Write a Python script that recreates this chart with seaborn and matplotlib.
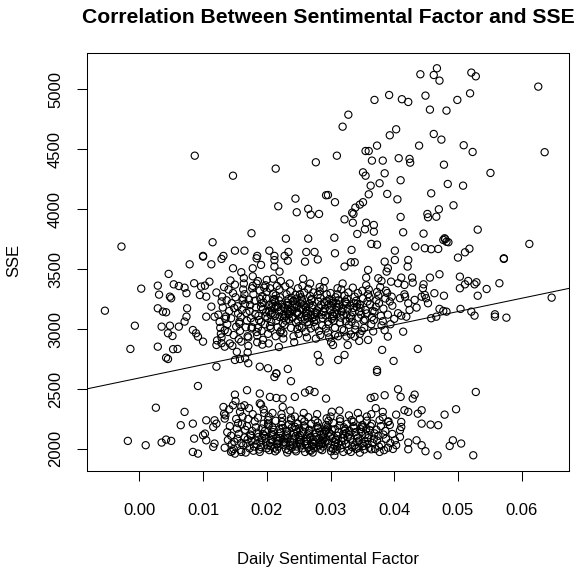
import numpy as np
import pandas as pd
import seaborn as sns
import matplotlib
matplotlib.use("Agg")
import matplotlib.pyplot as plt

# ---------------- data ----------------

# scattered points (outside the two dense clouds)
sparse_x = [
    0.0467, 0.0462, 0.0471, 0.0441, 0.0521, 0.0528, 0.0626, 0.0369, 0.0392, 0.0412,
    0.0422, 0.0449, 0.0456, 0.0482, 0.0499, 0.0519, 0.0328, 0.0319, 0.0393, 0.0403,
    0.0373, 0.0360, 0.0355, 0.0310, 0.0365, 0.0382, 0.0407, 0.0424, 0.0425, 0.0439,
    0.0462, 0.0474, 0.0509, 0.0523, 0.0636, 0.0478, 0.0351, 0.0355, 0.0385, 0.0410,
    0.0377, 0.0363, 0.0484, 0.0508, 0.0551, 0.0296, 0.0307, 0.0360, 0.0389, 0.0405,
    0.0458, 0.0493, 0.0470, 0.0452, 0.0453, 0.0466, 0.0351, 0.0346, 0.0339, 0.0334,
    0.0336, 0.0322, 0.0335, 0.0356, 0.0368, 0.0354, 0.0368, 0.0410, 0.0414, 0.0446,
    0.0531, 0.0306, 0.0342, 0.0479, 0.0480, 0.0477, 0.0482, 0.0485, 0.0433, 0.0448,
    0.0458, 0.0469, 0.0511, 0.0518, 0.0612, 0.0364, 0.0373, 0.0333, 0.0307, 0.0401,
    0.0572,
    0.0087, 0.0147, 0.0214, 0.0277, 0.0293, 0.0245, 0.0218, 0.0247, 0.0265, 0.0269,
    0.0282, 0.0176, 0.0115, 0.0230, 0.0265, -0.0028, 0.0150, 0.0165, 0.0204, 0.0234,
    0.0262, 0.0275, 0.0100, 0.0132, 0.0185, 0.0212, 0.0228,
    -0.0054, -0.0007, -0.0014, 0.0003, 0.0029, 0.0046, 0.0031, 0.0029, 0.0037, 0.0042,
    0.0035, 0.0048, 0.0062, 0.0045, 0.0052, 0.0029, 0.0053, 0.0060, 0.0042, 0.0045,
    0.0079, 0.0054, 0.0062, 0.0071, 0.0048, 0.0050, 0.0074, 0.0075, 0.0074, 0.0071,
    0.0086, 0.0097, 0.0103, 0.0110, 0.0095, 0.0105, 0.0113, 0.0105, 0.0118, 0.0084,
    0.0092, 0.0100, 0.0089, 0.0121, 0.0129, 0.0134, 0.0121, 0.0150, 0.0158, 0.0166,
    0.0171, 0.0189, 0.0202, 0.0233, 0.0215, 0.0283, 0.0280, 0.0147, 0.0160, 0.0178,
    0.0191, 0.0212, 0.0220, 0.0184, 0.0212, 0.0233, 0.0260, 0.0280, 0.0100, 0.0113,
    0.0129,
    0.0500, 0.0572, 0.0422, 0.0421, 0.0401, 0.0385, 0.0390, 0.0388, 0.0332, 0.0338,
    0.0322, 0.0359, 0.0375, 0.0380, 0.0356, 0.0411, 0.0428, 0.0429, 0.0416, 0.0406,
    0.0395, 0.0456, 0.0471, 0.0446, 0.0445, 0.0448, 0.0450, 0.0453, 0.0443, 0.0463,
    0.0478, 0.0503, 0.0516, 0.0511, 0.0503, 0.0529, 0.0526, 0.0545, 0.0565, 0.0531,
    0.0416, 0.0417, 0.0409, 0.0432, 0.0422, 0.0435, 0.0424, 0.0419, 0.0411, 0.0406,
    0.0414, 0.0458, 0.0466, 0.0477, 0.0482, 0.0471, 0.0504, 0.0521, 0.0526, 0.0558,
    0.0558, 0.0576, 0.0647, 0.0390, 0.0359, 0.0345, 0.0327, 0.0325, 0.0338, 0.0307,
    0.0304, 0.0381, 0.0437, 0.0399, 0.0373, 0.0322, 0.0312, 0.0301,
    -0.0018, 0.0010, 0.0035, 0.0042, 0.0050, 0.0026, 0.0071, 0.0065, 0.0084, 0.0092,
    0.0086, 0.0100, 0.0103, 0.0105, 0.0084, 0.0092, 0.0105, 0.0118, 0.0116, 0.0121,
    0.0118, 0.0116, 0.0150, 0.0169, 0.0189, 0.0205, 0.0191, 0.0215, 0.0225, 0.0212,
    0.0215, 0.0238, 0.0244, 0.0260, 0.0267, 0.0275, 0.0293, 0.0132, 0.0147, 0.0160,
    0.0165, 0.0133, 0.0134, 0.0144, 0.0150, 0.0160,
    0.0373, 0.0406, 0.0410, 0.0432, 0.0429, 0.0385, 0.0369, 0.0363, 0.0528, 0.0497,
    0.0479, 0.0443, 0.0457, 0.0469, 0.0443, 0.0437, 0.0422, 0.0416, 0.0403, 0.0411,
    0.0492, 0.0487, 0.0505, 0.0524, 0.0468, 0.0449, 0.0443, 0.0435, 0.0422, 0.0422,
    0.0403, 0.0409, 0.0401, 0.0409, 0.0411, 0.0390, 0.0382, 0.0306, 0.0320, 0.0346,
    0.0377, 0.0364,
]
sparse_y = [
    5175, 5119, 5072, 5125, 5139, 5108, 5022, 4911, 4952, 4917,
    4894, 4947, 4830, 4822, 4911, 4966, 4788, 4688, 4616, 4666,
    4530, 4485, 4485, 4446, 4405, 4405, 4425, 4419, 4388, 4530,
    4627, 4580, 4533, 4477, 4475, 4371, 4307, 4279, 4299, 4241,
    4216, 4196, 4210, 4196, 4302, 4118, 4058, 4124, 4127, 4082,
    4132, 4032, 3999, 3960, 3932, 3937, 4058, 4038, 4013, 3971,
    3960, 3915, 3887, 3887, 3868, 3832, 3812, 3935, 3807, 3796,
    3829, 3762, 3793, 3757, 3749, 3743, 3728, 3724, 3688, 3674,
    3666, 3668, 3640, 3670, 3710, 3710, 3704, 3660, 3632, 3654,
    3590,
    4446, 4279, 4338, 4391, 4116, 4088, 4024, 3974, 4002, 3954,
    3960, 3799, 3724, 3754, 3754, 3688, 3654, 3654, 3654, 3643,
    3643, 3643, 3610, 3610, 3610, 3610, 3610,
    3153, 3028, 2834, 3337, 3362, 3460, 3287, 3173, 3145, 3140,
    3020, 3028, 3020, 2965, 2942, 2853, 2832, 2834, 2761, 2750,
    3540, 3373, 3359, 3345, 3270, 3257, 3299, 3173, 3103, 3062,
    3382, 3354, 3362, 3395, 3284, 3270, 3187, 3103, 3103, 2992,
    2937, 2895, 2965, 2867, 2882, 2853, 2686, 2742, 2750, 2756,
    2715, 2686, 2673, 2667, 2631, 2728, 2784, 3507, 3474, 3507,
    3535, 3521, 3479, 3590, 3575, 3570, 3562, 3580, 3604, 3540,
    3585,
    3596, 3585, 3576, 3521, 3576, 3562, 3507, 3479, 3557, 3557,
    3521, 3493, 3424, 3401, 3429, 3429, 3429, 3387, 3368, 3382,
    3395, 3429, 3457, 3373, 3340, 3284, 3257, 3215, 3270, 3299,
    3278, 3437, 3401, 3373, 3340, 3390, 3373, 3334, 3382, 3278,
    3290, 3270, 3257, 3243, 3215, 3179, 3159, 3103, 3112, 3132,
    2978, 3090, 3103, 3151, 3145, 3168, 3168, 3145, 3112, 3123,
    3103, 3095, 3262, 2937, 2909, 2901, 2867, 2937, 2937, 2951,
    2867, 2826, 2834, 2734, 2659, 2784, 2742, 2890,
    2067, 2031, 2053, 2078, 2067, 2344, 2309, 2198, 2211, 2525,
    2086, 2114, 2128, 2072, 1975, 1961, 2239, 2239, 2183, 2211,
    2045, 2017, 2453, 2490, 2462, 2434, 2370, 2425, 2420, 2600,
    2628, 2565, 2434, 2470, 2490, 2475, 2420, 2350, 2364, 2350,
    2364, 2294, 2253, 1975, 1961, 1975,
    2642, 2498, 2434, 2453, 2420, 2448, 2434, 2425, 2475, 2331,
    2286, 2211, 2203, 2198, 2323, 2294, 2309, 2323, 2286, 2225,
    2072, 2025, 2045, 1947, 1947, 1981, 2031, 2072, 2053, 1997,
    2031, 2100, 2072, 2156, 2183, 2225, 2309, 1947, 1975, 1969,
    1975, 1997,
]

# dense upper cloud (about 2800-3450), estimated column by column
upper_x = [
    0.0122, 0.0127, 0.0124, 0.0129, 0.0121, 0.0126, 0.0128,
    0.0131, 0.0134, 0.0130, 0.0135, 0.0133, 0.0129,
    0.0138, 0.0141, 0.0137, 0.0142, 0.0140, 0.0136, 0.0139,
    0.0145, 0.0148, 0.0144, 0.0147, 0.0149, 0.0143, 0.0146,
    0.0152, 0.0155, 0.0151, 0.0156, 0.0150, 0.0154, 0.0157, 0.0153,
    0.0159, 0.0162, 0.0158, 0.0163, 0.0161, 0.0157, 0.0160, 0.0164,
    0.0166, 0.0169, 0.0165, 0.0170, 0.0168, 0.0164, 0.0167, 0.0171, 0.0163,
    0.0173, 0.0176, 0.0172, 0.0177, 0.0175, 0.0171, 0.0174, 0.0178, 0.0170,
    0.0180, 0.0183, 0.0179, 0.0184, 0.0182, 0.0178, 0.0181, 0.0185, 0.0177, 0.0186,
    0.0187, 0.0190, 0.0186, 0.0191, 0.0189, 0.0185, 0.0188, 0.0192, 0.0184, 0.0193,
    0.0194, 0.0197, 0.0193, 0.0198, 0.0196, 0.0192, 0.0195, 0.0199, 0.0191, 0.0200, 0.0194,
    0.0201, 0.0204, 0.0200, 0.0205, 0.0203, 0.0199, 0.0202, 0.0206, 0.0198, 0.0207, 0.0203,
    0.0208, 0.0211, 0.0207, 0.0212, 0.0210, 0.0206, 0.0209, 0.0213, 0.0205, 0.0214, 0.0210,
    0.0215, 0.0218, 0.0214, 0.0219, 0.0217, 0.0213, 0.0216, 0.0220, 0.0212, 0.0221, 0.0215, 0.0219,
    0.0222, 0.0225, 0.0221, 0.0226, 0.0224, 0.0220, 0.0223, 0.0227, 0.0219, 0.0228, 0.0222, 0.0226,
    0.0229, 0.0232, 0.0228, 0.0233, 0.0231, 0.0227, 0.0230, 0.0234, 0.0226, 0.0235, 0.0229, 0.0233,
    0.0236, 0.0239, 0.0235, 0.0240, 0.0238, 0.0234, 0.0237, 0.0241, 0.0233, 0.0242, 0.0236, 0.0240,
    0.0243, 0.0246, 0.0242, 0.0247, 0.0245, 0.0241, 0.0244, 0.0248, 0.0240, 0.0249, 0.0243, 0.0247,
    0.0250, 0.0253, 0.0249, 0.0254, 0.0252, 0.0248, 0.0251, 0.0255, 0.0247, 0.0256, 0.0250, 0.0254,
    0.0257, 0.0260, 0.0256, 0.0261, 0.0259, 0.0255, 0.0258, 0.0262, 0.0254, 0.0263, 0.0257, 0.0261,
    0.0264, 0.0267, 0.0263, 0.0268, 0.0266, 0.0262, 0.0265, 0.0269, 0.0261, 0.0270, 0.0264,
    0.0271, 0.0274, 0.0270, 0.0275, 0.0273, 0.0269, 0.0272, 0.0276, 0.0268, 0.0277, 0.0271,
    0.0278, 0.0281, 0.0277, 0.0282, 0.0280, 0.0276, 0.0279, 0.0283, 0.0275, 0.0284,
    0.0285, 0.0288, 0.0284, 0.0289, 0.0287, 0.0283, 0.0286, 0.0290, 0.0282, 0.0291,
    0.0292, 0.0295, 0.0291, 0.0296, 0.0294, 0.0290, 0.0293, 0.0297, 0.0289, 0.0298,
    0.0299, 0.0302, 0.0298, 0.0303, 0.0301, 0.0297, 0.0300, 0.0304, 0.0296, 0.0305,
    0.0306, 0.0309, 0.0305, 0.0310, 0.0308, 0.0304, 0.0307, 0.0311, 0.0303, 0.0312,
    0.0313, 0.0316, 0.0312, 0.0317, 0.0315, 0.0311, 0.0314, 0.0318, 0.0310, 0.0319,
    0.0320, 0.0323, 0.0319, 0.0324, 0.0322, 0.0318, 0.0321, 0.0325, 0.0317,
    0.0327, 0.0330, 0.0326, 0.0331, 0.0329, 0.0325, 0.0328, 0.0332, 0.0324,
    0.0334, 0.0337, 0.0333, 0.0338, 0.0336, 0.0332, 0.0335, 0.0339,
    0.0341, 0.0344, 0.0340, 0.0345, 0.0343, 0.0339, 0.0342, 0.0346,
    0.0348, 0.0351, 0.0347, 0.0352, 0.0350, 0.0346, 0.0349,
    0.0355, 0.0358, 0.0354, 0.0359, 0.0357, 0.0353, 0.0356,
    0.0362, 0.0365, 0.0361, 0.0366, 0.0364, 0.0360,
    0.0369, 0.0372, 0.0368, 0.0373, 0.0371, 0.0367,
    0.0376, 0.0379, 0.0375, 0.0380, 0.0378,
    0.0383, 0.0386, 0.0382, 0.0387, 0.0385,
    0.0390, 0.0393, 0.0389, 0.0394,
    0.0397, 0.0400, 0.0396,
]
upper_y = [
    2905, 3010, 3120, 3230, 3305, 3060, 2960,
    3180, 2990, 3270, 3085, 3350, 2930,
    3040, 3150, 3240, 2880, 3330, 3105, 2975,
    3215, 2950, 3090, 3300, 3175, 3405, 2860,
    3020, 3130, 3265, 2915, 3370, 3190, 3060, 2810,
    3100, 3240, 2985, 3330, 3160, 3045, 2895, 3425,
    3210, 3070, 3290, 2940, 3135, 3380, 3015, 2860, 3255,
    3150, 3005, 3245, 3340, 3090, 2930, 3200, 3440, 2805,
    3060, 3180, 3290, 2975, 3125, 3360, 3235, 2890, 3015, 3400,
    3110, 3250, 3010, 3185, 3320, 2945, 3075, 3215, 3380, 2870,
    3165, 3040, 3275, 3105, 3345, 2985, 3220, 3140, 3060, 3410, 2910,
    3090, 3200, 3310, 3025, 3150, 3255, 2960, 3120, 3365, 3180, 2880,
    3135, 3240, 3060, 3175, 3295, 3005, 3210, 3110, 3340, 2940, 3420,
    3070, 3185, 3280, 3145, 3015, 3225, 3360, 3100, 3250, 2975, 3190, 2850,
    3160, 3050, 3265, 3120, 3205, 3330, 2990, 3090, 3240, 3175, 3400, 2920,
    3110, 3220, 3035, 3150, 3290, 3185, 3070, 3250, 2965, 3125, 3355, 3200,
    3145, 3260, 3080, 3195, 3010, 3120, 3315, 3230, 3165, 2940, 3380, 3095,
    3180, 3055, 3235, 3130, 3285, 3100, 3205, 3000, 3160, 3340, 2890, 3255,
    3120, 3215, 3070, 3170, 3290, 3140, 3025, 3245, 3190, 3360, 2960, 3100,
    3165, 3080, 3230, 3135, 3305, 3010, 3200, 3110, 3265, 2930, 3420, 3180,
    3095, 3210, 3150, 3275, 3040, 3185, 3335, 3120, 2975, 3240, 3060,
    3175, 3060, 3250, 3120, 3305, 3005, 3200, 3140, 3380, 2920, 3090,
    3135, 3230, 3075, 3180, 3285, 3020, 3155, 3350, 3100, 2950,
    3200, 3090, 3260, 3150, 3030, 3315, 3120, 3225, 2985, 3400,
    3115, 3230, 3170, 3060, 3290, 3140, 3005, 3205, 3340, 2930,
    3160, 3085, 3250, 3125, 3195, 3040, 3300, 3220, 2970, 3105,
    3140, 3215, 3070, 3180, 3265, 3110, 3010, 3340, 3235, 2940,
    3185, 3095, 3240, 3150, 3055, 3290, 3205, 3000, 3125, 3380,
    3120, 3230, 3170, 3065, 3280, 3145, 2990, 3210, 3330,
    3165, 3090, 3250, 3195, 3035, 3120, 3305, 2955, 3225,
    3140, 3215, 3060, 3270, 3175, 3105, 3345, 2995,
    3185, 3095, 3235, 3145, 3300, 3030, 3210, 2960,
    3120, 3255, 3175, 3070, 3320, 3205, 2985,
    3160, 3230, 3080, 3290, 3130, 3010, 3365,
    3205, 3100, 3265, 3150, 3040, 3330,
    3145, 3240, 3075, 3310, 3185, 2980,
    3215, 3110, 3280, 3030, 3350,
    3170, 3255, 3065, 3320, 2990,
    3120, 3230, 3300, 3040,
    3195, 3085, 3270,
]

# dense lower band (about 1970-2400)
lower_x = [
    0.0134, 0.0138, 0.0135, 0.0139,
    0.0142, 0.0145, 0.0141, 0.0146, 0.0144,
    0.0149, 0.0152, 0.0148, 0.0153, 0.0151,
    0.0156, 0.0159, 0.0155, 0.0160, 0.0158, 0.0154,
    0.0163, 0.0166, 0.0162, 0.0167, 0.0165, 0.0161,
    0.0170, 0.0173, 0.0169, 0.0174, 0.0172, 0.0168, 0.0171,
    0.0177, 0.0180, 0.0176, 0.0181, 0.0179, 0.0175, 0.0178,
    0.0184, 0.0187, 0.0183, 0.0188, 0.0186, 0.0182, 0.0185, 0.0189,
    0.0191, 0.0194, 0.0190, 0.0195, 0.0193, 0.0189, 0.0192, 0.0196,
    0.0198, 0.0201, 0.0197, 0.0202, 0.0200, 0.0196, 0.0199, 0.0203, 0.0195,
    0.0205, 0.0208, 0.0204, 0.0209, 0.0207, 0.0203, 0.0206, 0.0210, 0.0202,
    0.0212, 0.0215, 0.0211, 0.0216, 0.0214, 0.0210, 0.0213, 0.0217, 0.0209,
    0.0219, 0.0222, 0.0218, 0.0223, 0.0221, 0.0217, 0.0220, 0.0224, 0.0216, 0.0225,
    0.0226, 0.0229, 0.0225, 0.0230, 0.0228, 0.0224, 0.0227, 0.0231, 0.0223, 0.0232,
    0.0233, 0.0236, 0.0232, 0.0237, 0.0235, 0.0231, 0.0234, 0.0238, 0.0230, 0.0239,
    0.0240, 0.0243, 0.0239, 0.0244, 0.0242, 0.0238, 0.0241, 0.0245, 0.0237, 0.0246,
    0.0247, 0.0250, 0.0246, 0.0251, 0.0249, 0.0245, 0.0248, 0.0252, 0.0244, 0.0253,
    0.0254, 0.0257, 0.0253, 0.0258, 0.0256, 0.0252, 0.0255, 0.0259, 0.0251, 0.0260,
    0.0261, 0.0264, 0.0260, 0.0265, 0.0263, 0.0259, 0.0262, 0.0266, 0.0258, 0.0267,
    0.0268, 0.0271, 0.0267, 0.0272, 0.0270, 0.0266, 0.0269, 0.0273, 0.0265, 0.0274,
    0.0275, 0.0278, 0.0274, 0.0279, 0.0277, 0.0273, 0.0276, 0.0280, 0.0272, 0.0281,
    0.0282, 0.0285, 0.0281, 0.0286, 0.0284, 0.0280, 0.0283, 0.0287, 0.0279, 0.0288,
    0.0289, 0.0292, 0.0288, 0.0293, 0.0291, 0.0287, 0.0290, 0.0294, 0.0286, 0.0295,
    0.0296, 0.0299, 0.0295, 0.0300, 0.0298, 0.0294, 0.0297, 0.0301, 0.0293, 0.0302,
    0.0303, 0.0306, 0.0302, 0.0307, 0.0305, 0.0301, 0.0304, 0.0308, 0.0300,
    0.0310, 0.0313, 0.0309, 0.0314, 0.0312, 0.0308, 0.0311, 0.0315, 0.0307,
    0.0317, 0.0320, 0.0316, 0.0321, 0.0319, 0.0315, 0.0318, 0.0322, 0.0314,
    0.0324, 0.0327, 0.0323, 0.0328, 0.0326, 0.0322, 0.0325, 0.0329,
    0.0331, 0.0334, 0.0330, 0.0335, 0.0333, 0.0329, 0.0332, 0.0336,
    0.0338, 0.0341, 0.0337, 0.0342, 0.0340, 0.0336, 0.0339, 0.0343,
    0.0345, 0.0348, 0.0344, 0.0349, 0.0347, 0.0343, 0.0346, 0.0350,
    0.0352, 0.0355, 0.0351, 0.0356, 0.0354, 0.0350, 0.0353, 0.0357,
    0.0359, 0.0362, 0.0358, 0.0363, 0.0361, 0.0357, 0.0360,
    0.0366, 0.0369, 0.0365, 0.0370, 0.0368, 0.0364,
    0.0373, 0.0376, 0.0372, 0.0377, 0.0375, 0.0371,
    0.0380, 0.0383, 0.0379, 0.0384, 0.0382,
    0.0387, 0.0390, 0.0386, 0.0391,
    0.0394, 0.0397, 0.0393, 0.0398,
]
lower_y = [
    2010, 2140, 2280, 2075,
    2190, 2040, 2330, 1985, 2110,
    2060, 2250, 2000, 2170, 2400,
    2125, 1990, 2215, 2050, 2310, 2085,
    2030, 2160, 2270, 1970, 2095, 2205,
    2080, 2005, 2190, 2120, 2340, 2045, 2250,
    2150, 2020, 2065, 2230, 1985, 2110, 2290,
    2040, 2100, 2180, 1995, 2260, 2070, 2135, 2380,
    2015, 2125, 2060, 2210, 2090, 1975, 2170, 2300,
    2085, 2030, 2150, 2240, 2005, 2110, 2055, 2195, 2330,
    2050, 2120, 1990, 2180, 2075, 2270, 2025, 2140, 2210,
    2010, 2095, 2160, 2040, 2235, 2115, 1980, 2065, 2300,
    2070, 2135, 2020, 2200, 2090, 2045, 2165, 2260, 1995, 2350,
    2035, 2110, 2175, 2000, 2080, 2225, 2060, 2145, 2290, 1970,
    2090, 2025, 2150, 2060, 2205, 2120, 1990, 2255, 2045, 2175,
    2055, 2130, 2010, 2185, 2085, 2240, 2035, 2105, 2320, 1980,
    2020, 2100, 2165, 2060, 2210, 1995, 2140, 2075, 2270, 2045,
    2075, 2145, 2030, 2195, 2005, 2115, 2250, 2060, 2170, 1975,
    2040, 2120, 2180, 2010, 2085, 2230, 2065, 2150, 2300, 1990,
    2095, 2025, 2160, 2055, 2210, 2130, 1985, 2075, 2265, 2040,
    2060, 2135, 2005, 2190, 2100, 2045, 2240, 2170, 1970, 2085,
    2030, 2115, 2175, 2070, 2000, 2220, 2145, 2050, 2290, 2095,
    2080, 2150, 2020, 2200, 2060, 1990, 2125, 2255, 2040, 2170,
    2045, 2105, 2185, 2010, 2135, 2070, 2235, 1980, 2160, 2310,
    2090, 2030, 2160, 2055, 2215, 2120, 2000, 2075, 2270,
    2020, 2140, 2075, 2195, 2045, 1985, 2110, 2250, 2165,
    2065, 2125, 2005, 2180, 2090, 2230, 2035, 2150, 2320,
    2040, 2100, 2165, 1990, 2210, 2070, 2135, 2280,
    2085, 2015, 2150, 2055, 2240, 2120, 1975, 2190,
    2030, 2110, 2175, 2060, 2000, 2225, 2140, 2300,
    2070, 2140, 2010, 2185, 2165, 2095, 2250, 2045,
    2025, 2120, 2180, 2165, 2060, 2200, 1995, 2270,
    2090, 2155, 2040, 2190, 2010, 2235, 2115,
    2050, 2130, 2210, 2000, 2085, 2290,
    2070, 2020, 2160, 2240, 2110, 2340,
    2035, 2120, 2190, 1990, 2265,
    2085, 2010, 2150, 2230,
    2050, 2125, 2200, 2000,
]

# fitted line (abline)
line_intercept = 2592
line_slope = 11080

x_ticks = [0.00, 0.01, 0.02, 0.03, 0.04, 0.05, 0.06]
x_tick_labels = ["0.00", "0.01", "0.02", "0.03", "0.04", "0.05", "0.06"]
y_ticks = [2000, 2500, 3000, 3500, 4000, 4500, 5000]

title = "Correlation Between Sentimental Factor and SSE"
x_label = "Daily Sentimental Factor"
y_label = "SSE"

# ---------------- plot ----------------

df = pd.DataFrame({
    "sentiment": sparse_x + upper_x + lower_x,
    "sse": sparse_y + upper_y + lower_y,
})

sns.set_theme(style="ticks")
plt.rcParams["font.family"] = ["Liberation Sans", "DejaVu Sans"]

fig = plt.figure(figsize=(5.86, 5.70), dpi=100)
ax = fig.add_axes([0.149, 0.1737, 0.8225, 0.7328])

sns.scatterplot(data=df, x="sentiment", y="sse", ax=ax, marker="o", s=27,
                facecolor="none", edgecolor="black", linewidth=0.8)
ax.axline((0, line_intercept), slope=line_slope, color="black", lw=0.75)

ax.set_xlim(-0.00816, 0.06747)
ax.set_ylim(1816, 5300)
ax.set_xticks(x_ticks)
ax.set_xticklabels(x_tick_labels)
ax.set_yticks(y_ticks)
ax.set_yticklabels([str(v) for v in y_ticks])
for lab in ax.get_yticklabels():
    lab.set_rotation(90)
    lab.set_va("center")

ax.tick_params(axis="x", length=7.5, width=0.75, pad=15.5, labelsize=12,
               color="black", labelcolor="black")
ax.tick_params(axis="y", length=7.5, width=0.75, pad=10, labelsize=12,
               color="black", labelcolor="black")
for sp in ax.spines.values():
    sp.set_color("black")
    sp.set_linewidth(0.75)
ax.set_xlabel("")
ax.set_ylabel("")

fig.text(328.3 / 586, 1 - 23 / 570, title, ha="center", va="baseline",
         fontsize=15.2, fontweight="bold", color="black")
fig.text(328.3 / 586, 1 - 564 / 570, x_label, ha="center", va="baseline",
         fontsize=12, color="black")
fig.text(14 / 586, 1 - 260.5 / 570, y_label, ha="center", va="center",
         rotation=90, fontsize=12, color="black")

fig.savefig("out.png", dpi=100)
